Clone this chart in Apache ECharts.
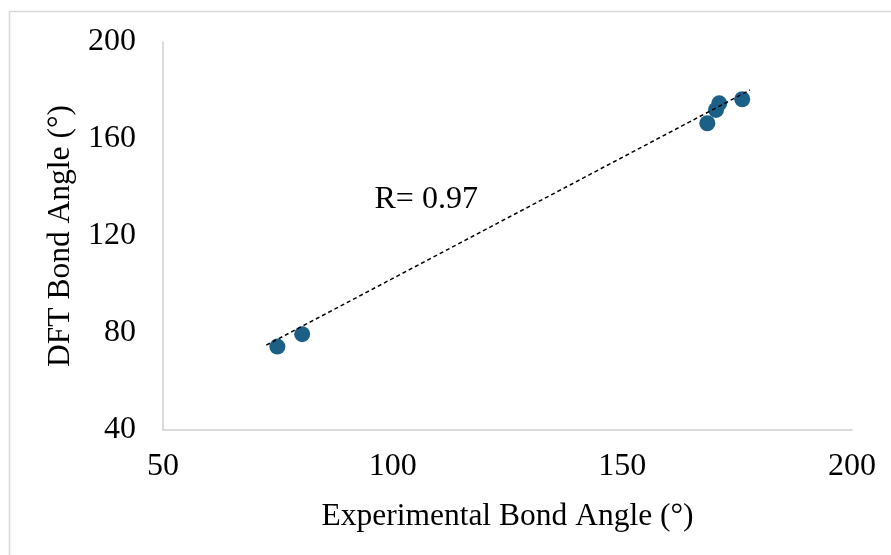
<!DOCTYPE html>
<html>
<head>
<meta charset="utf-8">
<script src="https://cdn.jsdelivr.net/npm/echarts@6/dist/echarts.min.js"></script>
<style>
  html, body { margin: 0; padding: 0; background: #ffffff; }
  #chart { width: 891px; height: 555px; }
</style>
</head>
<body>
<div id="chart"></div>
<script>
// Measured bond angles (degrees)
const expAngles = [74.9, 80.3, 168.5, 170.4, 171.1, 176.1];
const dftAngles = [74.4, 79.5, 166.5, 172.0, 174.7, 176.4];

// Linear trendline end points
const trendX = [72.5, 177.8];
const trendY = [75.0, 180.2];

const xTicks = { min: 50, max: 200, interval: 50 };
const yTicks = { min: 40, max: 200, interval: 40 };

const fitLabel = 'R= 0.97';
const fitLabelAt = [107.3, 135];

const serif = '"Liberation Serif", "Times New Roman", serif';
const axisGray = '#d0d0d0';

const chart = echarts.init(document.getElementById('chart'), null, { renderer: 'canvas' });

chart.setOption({
  backgroundColor: '#ffffff',
  animation: false,
  grid: { left: 163, right: 39, top: 42, bottom: 125 },
  xAxis: {
    type: 'value',
    min: xTicks.min, max: xTicks.max, interval: xTicks.interval,
    name: 'Experimental Bond Angle (°)',
    nameLocation: 'middle',
    nameGap: 71,
    nameTextStyle: { fontFamily: serif, fontSize: 31.5, color: '#000' },
    axisLine: { show: true, lineStyle: { color: axisGray, width: 1.5 } },
    axisTick: { show: false },
    splitLine: { show: false },
    axisLabel: { fontFamily: serif, fontSize: 32, color: '#000', margin: 21 }
  },
  yAxis: {
    type: 'value',
    min: yTicks.min, max: yTicks.max, interval: yTicks.interval,
    name: 'DFT Bond Angle (°)',
    nameLocation: 'middle',
    nameGap: 79,
    nameRotate: 90,
    nameTextStyle: { fontFamily: serif, fontSize: 31.5, color: '#000' },
    axisLine: { show: true, lineStyle: { color: axisGray, width: 1.5 } },
    axisTick: { show: false },
    splitLine: { show: false },
    axisLabel: { fontFamily: serif, fontSize: 32, color: '#000', margin: 27 }
  },
  graphic: [
    {
      type: 'rect',
      shape: { x: 9.5, y: 11.5, width: 900, height: 560 },
      style: { fill: 'none', stroke: '#d9d9d9', lineWidth: 1.5 },
      silent: true,
      z: -1
    }
  ],
  series: [
    {
      type: 'line',
      data: trendX.map((x, i) => [x, trendY[i]]),
      showSymbol: false,
      symbol: 'none',
      lineStyle: { color: '#000', width: 1.5, type: [4, 3] },
      z: 3,
      silent: true
    },
    {
      type: 'scatter',
      data: expAngles.map((x, i) => [x, dftAngles[i]]),
      symbol: 'circle',
      symbolSize: 16,
      itemStyle: { color: '#1c5f87', opacity: 1 },
      z: 2
    },
    {
      type: 'scatter',
      data: [fitLabelAt],
      symbolSize: 0,
      silent: true,
      itemStyle: { color: '#000' },
      label: {
        show: true,
        position: 'inside',
        formatter: fitLabel,
        fontFamily: serif,
        fontSize: 32,
        color: '#000',
        textBorderWidth: 0,
        opacity: 1
      }
    }
  ]
});
</script>
</body>
</html>
